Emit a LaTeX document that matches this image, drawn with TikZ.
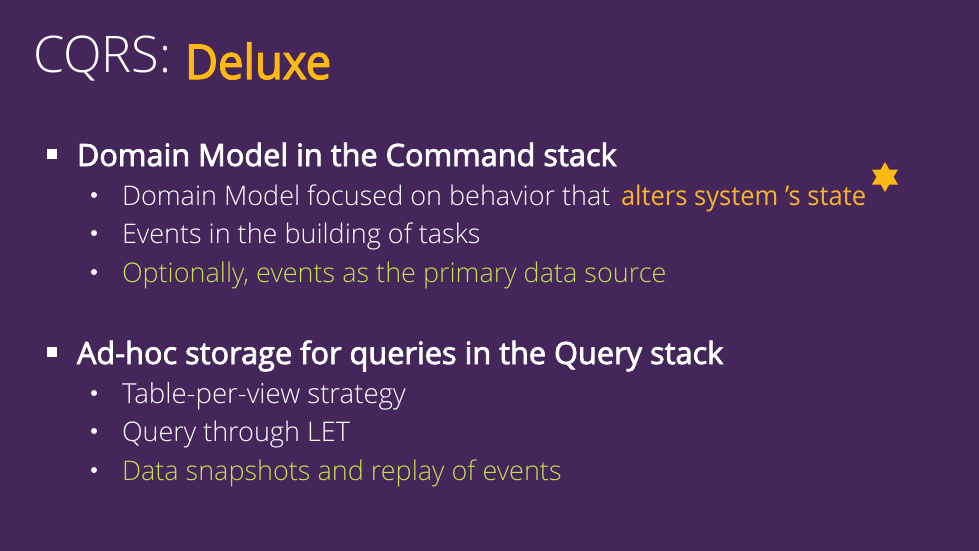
\documentclass[tikz,border=0pt]{standalone}
\usepackage{fontspec}
\setmainfont{Open Sans}
\newfontfamily\lightfont{Open Sans Light}
\newfontfamily\semifont[FakeBold=2.5]{Open Sans}
\newfontfamily\semicond[FakeBold=2.5,FakeStretch=0.945]{Open Sans}
\newfontfamily\amberfont[FakeStretch=0.945]{Open Sans}
\definecolor{bg}{HTML}{44265B}
\definecolor{gold}{HTML}{FDB913}
\definecolor{amber}{HTML}{F8B32C}
\definecolor{lime}{HTML}{C5DE4F}
\tikzset{
  x=1pt,y=-1pt,
  txt/.style={anchor=base west,inner sep=0pt,outer sep=0pt,text=white},
  body/.style={txt,font=\lightfont\fontsize{27}{30}\selectfont},
  head/.style={txt,font=\semifont\fontsize{30.7}{34}\selectfont},
  sq/.style={fill=white,draw=none,minimum size=9.5pt,inner sep=0pt,rectangle},
  dot/.style={fill=white,draw=none,circle,minimum size=6pt,inner sep=0pt}
}
\begin{document}
\begin{tikzpicture}
\useasboundingbox (0,0) rectangle (979,551);
\fill[bg] (0,0) rectangle (979,551);
\node[txt,font=\lightfont\fontsize{50.5}{54}\selectfont] (t1) at (33,73) {CQRS:};
\node[txt,text=gold,font=\semicond\fontsize{48}{52}\selectfont] (t2) at (185,79) {Deluxe};
\node[sq] (b1) at (52,154) {};
\node[head] (h1) at (77,166) {Domain Model in the Command stack};
\node[dot] (d1) at (94,195) {};
\node[body] (l1) at (122,205) {Domain Model focused on behavior that};
\node[body,text=amber,font=\amberfont\fontsize{27}{30}\selectfont] (l1b) at (621,205) {alters system ’s state};
\node[dot] (d2) at (94,233) {};
\node[body] (l2) at (122,243) {Events in the building of tasks};
\node[dot] (d3) at (94,272) {};
\node[body,text=lime] (l3) at (122,282) {Optionally, events as the primary data source};
\node[sq] (b2) at (52,352) {};
\node[head] (h2) at (77,364) {Ad-hoc storage for queries in the Query stack};
\node[dot] (d4) at (94,393) {};
\node[body,font=\lightfont\fontsize{27.6}{30}\selectfont] (l4) at (122,403) {Table-per-view strategy};
\node[dot] (d5) at (94,431) {};
\node[body] (l5) at (122,441) {Query through LET};
\node[dot] (d6) at (94,470) {};
\node[body,text=lime] (l6) at (122,480) {Data snapshots and replay of events};
\fill[gold] (885,162) -- (889.3,169.5) -- (898,169.5) -- (893.6,177) -- (898,184.5) -- (889.3,184.5) -- (885,192) -- (880.7,184.5) -- (872,184.5) -- (876.4,177) -- (872,169.5) -- (880.7,169.5) -- cycle;
\end{tikzpicture}
\end{document}
